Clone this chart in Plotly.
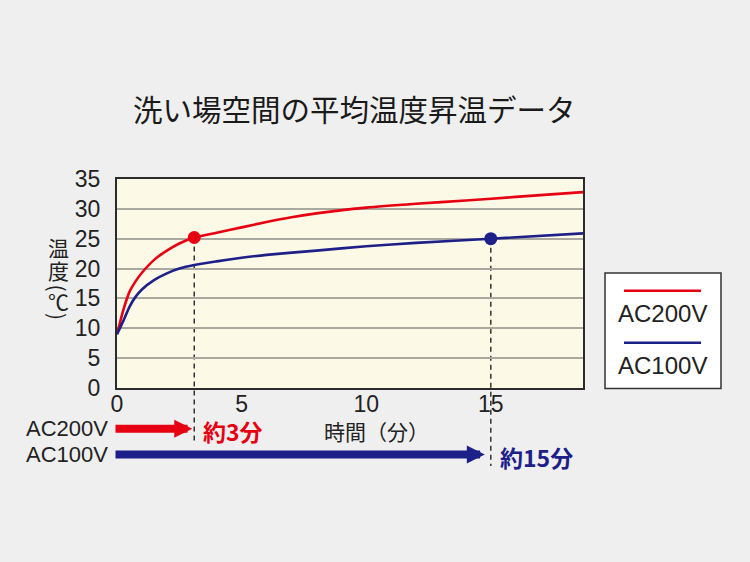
import plotly.graph_objects as go

# values
time_200 = [0, 0.25, 0.5, 0.75, 1, 1.5, 2, 2.5, 3.1, 4, 5, 6, 7, 8, 10, 12, 14, 16, 18.7]
temp_200 = [9.0, 13.0, 16.1, 17.9, 19.3, 21.5, 23.0, 24.2, 25.2, 26.0, 26.9, 27.8, 28.6, 29.25, 30.2, 30.85, 31.4, 32.0, 32.8]
time_100 = [0, 0.25, 0.5, 0.75, 1, 1.5, 2, 2.5, 3.1, 4, 5, 6, 8, 10, 12, 15, 18.7]
temp_100 = [9.0, 11.2, 13.6, 15.3, 16.5, 18.1, 19.2, 20.0, 20.6, 21.2, 21.8, 22.3, 23.0, 23.75, 24.3, 25.0, 25.9]

series_names = ['AC200V', 'AC100V']
series_colors = ['#e60012', '#1d2088']
reach_time = [3.1, 15.0]
reach_temp = [25.2, 25.0]
reach_labels = ['約3分', '約15分']

x_ticks = [0, 5, 10, 15]
y_ticks = [0, 5, 10, 15, 20, 25, 30, 35]
x_max = 18.7
y_max = 35

title = '洗い場空間の平均温度昇温データ'
x_title = '時間（分）'
y_title_chars = ['温', '度', '(', '℃', ')']

# page geometry (pixels)
W, H = 750, 562
L, R, T, B = 117, 583, 179, 388

JP = 'Noto Sans CJK JP'
LAT = 'Liberation Sans, Arial, sans-serif'


def px_x(px):
    return (px - L) / (R - L)


def px_y(py):
    return (B - py) / (B - T)


fig = go.Figure()

for xs, ys, name, col in zip([time_200, time_100], [temp_200, temp_100], series_names, series_colors):
    fig.add_trace(go.Scatter(x=xs, y=ys, name=name, mode='lines',
                             line=dict(color=col, width=2.6, shape='spline', smoothing=0.6),
                             hoverinfo='skip'))

# reach points
fig.add_trace(go.Scatter(x=reach_time, y=reach_temp, mode='markers',
                         marker=dict(color=series_colors, size=13, line=dict(width=0)),
                         hoverinfo='skip'))

shapes = []
annotations = []

# dashed drop lines and arrows under the axis
dash_end = [441, 466]
arrow_y = [428.7, 454.5]
arrow_gap = [2, 6]
for i in range(2):
    shapes.append(dict(type='line', xref='x', yref='paper',
                       x0=reach_time[i], x1=reach_time[i],
                       y0=reach_temp[i] / y_max, y1=px_y(dash_end[i]),
                       line=dict(color='#333333', width=1.5, dash='5px,4px'),
                       layer='between'))
    annotations.append(dict(x=reach_time[i], y=px_y(arrow_y[i]), xref='x', yref='paper',
                            ax=-0.12, axref='x', ay=0, ayref='pixel', text='',
                            showarrow=True, arrowhead=2, arrowwidth=8, arrowsize=0.45,
                            arrowcolor=series_colors[i], standoff=arrow_gap[i]))
    annotations.append(dict(x=reach_time[i], y=px_y(arrow_y[i] + 2), xref='x', yref='paper',
                            xanchor='left', yanchor='middle', xshift=7, showarrow=False,
                            text='<b>' + reach_labels[i] + '</b>',
                            font=dict(family=JP, size=23, color=series_colors[i])))
    annotations.append(dict(x=px_x(110), y=px_y(arrow_y[i]), xref='paper', yref='paper',
                            xanchor='right', yanchor='middle', showarrow=False,
                            text=series_names[i],
                            font=dict(family=LAT, size=22, color='#222222')))

# legend box drawn by hand (line above label)
shapes.append(dict(type='rect', xref='paper', yref='paper',
                   x0=px_x(605), x1=px_x(721), y0=px_y(273), y1=px_y(388.5),
                   fillcolor='white', line=dict(color='#333333', width=1.5)))
leg_line_y = [290.7, 342.7]
leg_text_y = [313.3, 365]
for i in range(2):
    shapes.append(dict(type='line', xref='paper', yref='paper',
                       x0=px_x(624), x1=px_x(701), y0=px_y(leg_line_y[i]), y1=px_y(leg_line_y[i]),
                       line=dict(color=series_colors[i], width=2.5)))
    annotations.append(dict(x=px_x(662.5), y=px_y(leg_text_y[i]), xref='paper', yref='paper',
                            xanchor='center', yanchor='middle', showarrow=False,
                            text=series_names[i],
                            font=dict(family=LAT, size=24, color='#222222')))

# title
annotations.append(dict(x=px_x(354), y=px_y(108), xref='paper', yref='paper',
                        xanchor='center', yanchor='middle', showarrow=False, text=title,
                        font=dict(family=JP, size=29.5, color='#1a1a1a')))

# x axis title
annotations.append(dict(x=px_x(376), y=px_y(431), xref='paper', yref='paper',
                        xanchor='center', yanchor='middle', showarrow=False, text=x_title,
                        font=dict(family=JP, size=21, color='#222222')))

# vertical y axis title, one character at a time
char_y = [246.7, 270, 287.5, 301, 316]
char_rot = [0, 0, 90, 0, 90]
for ch, cy, rot in zip(y_title_chars, char_y, char_rot):
    annotations.append(dict(x=px_x(58), y=px_y(cy), xref='paper', yref='paper',
                            xanchor='center', yanchor='middle', showarrow=False, text=ch,
                            textangle=rot, font=dict(family=JP, size=21, color='#222222')))

fig.update_layout(
    width=W, height=H,
    margin=dict(l=L, r=W - R, t=T, b=H - B, pad=0),
    paper_bgcolor='#efefef',
    plot_bgcolor='#fcfae6',
    showlegend=False,
    shapes=shapes,
    annotations=annotations,
    xaxis=dict(range=[0, x_max], tickvals=x_ticks, ticktext=[str(v) for v in x_ticks],
               showgrid=False, zeroline=False, showline=True, mirror=True,
               linecolor='#2b2b2b', linewidth=2, ticks='', ticklabelstandoff=-6,
               tickfont=dict(family=LAT, size=23, color='#222222')),
    yaxis=dict(range=[0, y_max], tickvals=y_ticks, ticktext=[str(v) for v in y_ticks],
               showgrid=True, gridcolor='#aaa9a0', gridwidth=2, zeroline=False,
               showline=True, mirror=True, linecolor='#2b2b2b', linewidth=2,
               ticks='', ticklabelstandoff=10,
               tickfont=dict(family=LAT, size=23, color='#222222')),
)

fig.write_html("out.html", config={'displayModeBar': False},
               post_script="document.body.style.margin='0';")
